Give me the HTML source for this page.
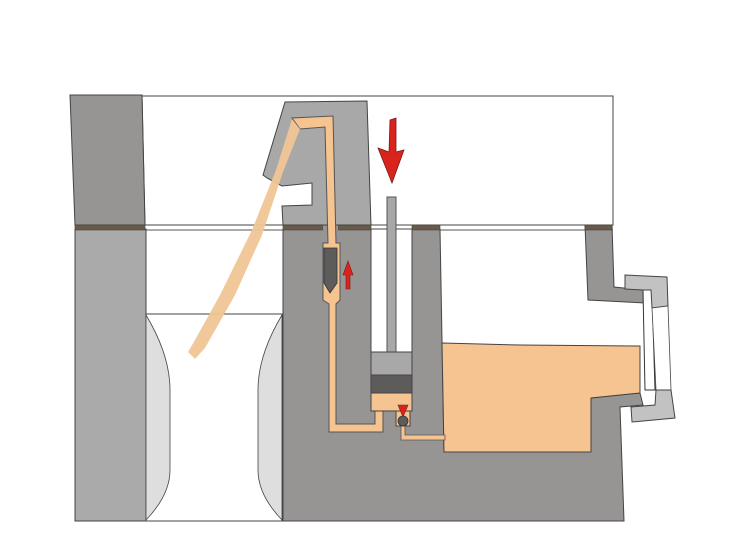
<!DOCTYPE html>
<html><head><meta charset="utf-8"><style>html,body{margin:0;padding:0;background:#fff}svg{display:block}</style></head>
<body>
<svg width="739" height="556" viewBox="0 0 739 556" xmlns="http://www.w3.org/2000/svg" stroke-linejoin="miter">
<rect width="739" height="556" fill="#fff"/>
<polygon points="142,96 613,96 613,225 145,225" fill="#fff" stroke="#444" stroke-width="1"/>
<polygon points="70,95 142,95 145,225 75,225" fill="#979593" stroke="#444" stroke-width="1"/>
<line x1="75" y1="225" x2="613" y2="225" stroke="#444" stroke-width="1"/>
<line x1="75" y1="230" x2="613" y2="230" stroke="#555" stroke-width="1"/>
<rect x="75" y="229" width="71" height="292" fill="#aaa" stroke="#444" stroke-width="1"/>
<rect x="146" y="314" width="136" height="207" fill="#fff" stroke="#444" stroke-width="1"/>
<path d="M146,315 Q170,355 170,390 L170,470 Q170,495 146,520 Z" fill="#dedede" stroke="#444" stroke-width="0.8"/>
<path d="M282,315 Q258,355 258,390 L258,470 Q258,495 282,520 Z" fill="#dedede" stroke="#444" stroke-width="0.8"/>
<polygon points="283,229 440,229 444,452 591,452 591,398 640,393 643,405 620,407 624,521 283,521" fill="#979593" stroke="#444" stroke-width="1"/>
<rect x="371" y="229" width="41" height="124" fill="#fff" stroke="#444" stroke-width="1"/>
<polygon points="442,343 520,345 640,346 640,393 591,398 591,452 444,452" fill="#f5c491" stroke="#444" stroke-width="1"/>
<polygon points="585,225 612,225 614,287 643,290 645,303 588,300" fill="#979593" stroke="#444" stroke-width="1"/>
<polygon points="643,290 652,290 655,390 645,390" fill="#fff" stroke="#333" stroke-width="1"/>
<polygon points="625,275 667,277 668,306 652,308 651,290 643,290 625,289" fill="#c2c2c2" stroke="#444" stroke-width="1"/>
<polygon points="652,308 668,306 671,390 656,390" fill="#fff" stroke="#444" stroke-width="0.8"/>
<polygon points="656,390 671,390 675,418 632,422 631,407 655,405" fill="#c2c2c2" stroke="#444" stroke-width="1"/>
<rect x="75" y="225" width="70" height="5" fill="#6b5a48" stroke="#444" stroke-width="0.6"/>
<rect x="283" y="225" width="40" height="5" fill="#6b5a48" stroke="#444" stroke-width="0.6"/>
<rect x="338" y="225" width="33" height="5" fill="#6b5a48" stroke="#444" stroke-width="0.6"/>
<rect x="412" y="225" width="28" height="5" fill="#6b5a48" stroke="#444" stroke-width="0.6"/>
<rect x="585" y="225" width="27" height="5" fill="#6b5a48" stroke="#444" stroke-width="0.6"/>
<rect x="323" y="225" width="15" height="18" fill="#979593"/>
<polygon points="285,102 367,101 371,225 283,225 282,206 312,205 312,183 282,186 267,178 263,175" fill="#a8a8a8" stroke="#444" stroke-width="1"/>
<polygon points="292,118 333,116 336,243 340,243 340,300 336,304 336,424 375,424 375,411 383,411 383,432 329,432 329,304 323,300 323,243 328,243 325,127 300,129" fill="#f5c491" stroke="#555" stroke-width="1"/>
<polygon points="188,352 195,359 205,348 235,295 262,235 283,172 300,129 292,119 276,170 252,230 220,295 195,340" fill="#f0c595" opacity="0.95"/>
<polygon points="324,248 337,248 337,283 330,293 324,283" fill="#5e5b5b" stroke="#333" stroke-width="0.8"/>
<polygon points="346,289 350,289 350,275 353,275 348,261 343,275 346,275" fill="#d9241d" stroke="#7a1a14" stroke-width="0.6"/>
<rect x="387" y="197" width="9" height="155" fill="#a8a8a8" stroke="#555" stroke-width="1"/>
<rect x="371" y="352" width="41" height="23" fill="#a8a8a8" stroke="#444" stroke-width="1"/>
<rect x="371" y="375" width="41" height="18" fill="#5e5b5b" stroke="#444" stroke-width="1"/>
<rect x="371" y="393" width="41" height="18" fill="#f5c491" stroke="#444" stroke-width="1"/>
<rect x="396" y="411" width="14" height="15" fill="#f5c491" stroke="#444" stroke-width="1"/>
<polygon points="401,426 405,426 405,435 445,435 445,440 401,440" fill="#f5c491" stroke="#555" stroke-width="0.8"/>
<polygon points="398,405 408,405 403,417" fill="#d9241d" stroke="#7a1a14" stroke-width="0.6"/>
<circle cx="403" cy="421" r="5" fill="#5e5b5b" stroke="#333" stroke-width="0.8"/>
<polygon points="390,120 396,118 396,152 404,150 392,183 378,148 389,152" fill="#d9241d" stroke="#7a1a14" stroke-width="0.8"/>
</svg>
</body></html>
